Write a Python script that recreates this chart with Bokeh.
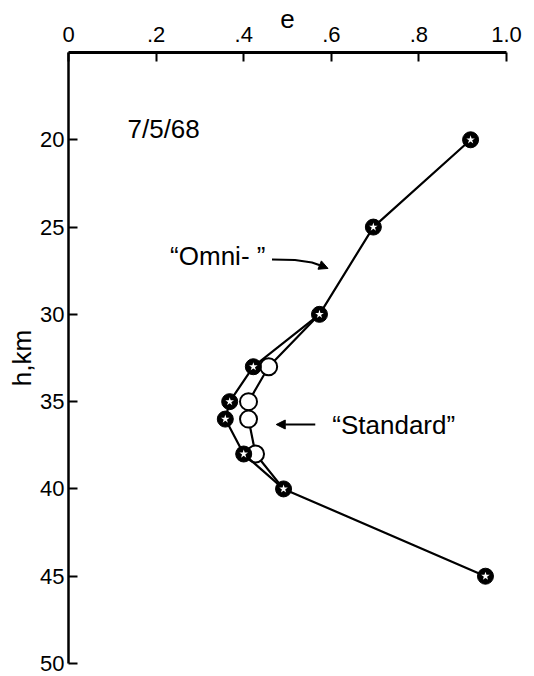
from bokeh.plotting import figure
from bokeh.models import Range1d, FixedTicker, Label, Arrow, NormalHead
from bokeh.embed import file_html
from bokeh.resources import INLINE

# ---- data ----
omni_h = [20, 25, 30, 33, 35, 36, 38, 40, 45]
omni_e = [0.918, 0.696, 0.573, 0.422, 0.368, 0.358, 0.400, 0.491, 0.952]

std_h = [30, 33, 35, 36, 38, 40]
std_e = [0.573, 0.457, 0.411, 0.411, 0.427, 0.491]
std_mark_h = [33, 35, 36, 38]
std_mark_e = [0.457, 0.411, 0.411, 0.427]

x_ticks = [0, 0.2, 0.4, 0.6, 0.8, 1.0]
x_tick_labels = ["0", ".2", ".4", ".6", ".8", "1.0"]
y_ticks = [20, 25, 30, 35, 40, 45, 50]
y_tick_labels = ["20", "25", "30", "35", "40", "45", "50"]

FONT = "Liberation Sans"

p = figure(width=534, height=676, output_backend="svg", toolbar_location=None,
           x_axis_location="above",
           x_range=Range1d(0, 1), y_range=Range1d(50, 15),
           min_border_left=68, min_border_right=28,
           min_border_top=52, min_border_bottom=13,
           background_fill_color="white", border_fill_color="white")
p.outline_line_color = None
p.xgrid.visible = False
p.ygrid.visible = False

xa = p.xaxis[0]
xa.ticker = FixedTicker(ticks=x_ticks)
xa.major_label_overrides = {t: s for t, s in zip(x_ticks, x_tick_labels)}
ya = p.yaxis[0]
ya.ticker = FixedTicker(ticks=y_ticks)
ya.major_label_overrides = {t: s for t, s in zip(y_ticks, y_tick_labels)}

for ax in (xa, ya):
    ax.minor_tick_line_color = None
    ax.major_tick_in = 9
    ax.major_tick_out = 0
    ax.major_tick_line_width = 2
    ax.major_tick_line_color = "black"
    ax.axis_line_color = "black"
    ax.major_label_text_font = FONT
    ax.major_label_text_font_size = "22px"
    ax.major_label_text_color = "black"
    ax.axis_label_text_font = FONT
    ax.axis_label_text_font_style = "normal"
    ax.axis_label_text_color = "black"
xa.axis_line_width = 3
ya.axis_line_width = 2.5
xa.major_label_standoff = 11
ya.major_label_standoff = 4

xa.axis_label = "e"
xa.axis_label_text_font_size = "26px"
xa.axis_label_standoff = -4
ya.axis_label = "h,km"
ya.axis_label_text_font_size = "26px"
ya.axis_label_standoff = 0

# "Standard" series
p.line(std_e, std_h, line_color="black", line_width=2.2)
p.scatter(std_mark_e, std_mark_h, marker="circle", size=17,
          fill_color="white", line_color="black", line_width=2)

# "Omni-" series
p.line(omni_e, omni_h, line_color="black", line_width=2.2)
p.scatter(omni_e, omni_h, marker="circle", size=16,
          fill_color="black", line_color="black", line_width=1)
p.scatter(omni_e, omni_h, marker="star", size=9,
          fill_color="white", line_color=None)

# ---- annotations ----
def lab(x, y, text, size, align="left", baseline="middle"):
    p.add_layout(Label(x=x, y=y, text=text, text_font=FONT,
                       text_font_size=size, text_color="black",
                       text_align=align, text_baseline=baseline))

lab(0.1347, 19.38, "7/5/68", "26px", baseline="alphabetic")
lab(0.232, 26.63, "\u201cOmni- \u201d", "26px")
lab(0.6023, 36.33, "\u201cStandard\u201d", "26px")

# curved pointer for "Omni-"
omni_ptr_e = [0.4646, 0.5171, 0.5559, 0.5788]
omni_ptr_h = [26.86, 26.89, 27.03, 27.23]
p.line(omni_ptr_e, omni_ptr_h, line_color="black", line_width=2)
p.add_layout(Arrow(end=NormalHead(size=9, fill_color="black", line_color="black"),
                   x_start=0.5788, y_start=27.23, x_end=0.5925, y_end=27.37,
                   line_color="black", line_width=2))

# pointer for "Standard"
p.add_layout(Arrow(end=NormalHead(size=9, fill_color="black", line_color="black"),
                   x_start=0.5634, y_start=36.31, x_end=0.4743, y_end=36.31,
                   line_color="black", line_width=2))

open("out.html", "w").write(file_html(p, INLINE))
